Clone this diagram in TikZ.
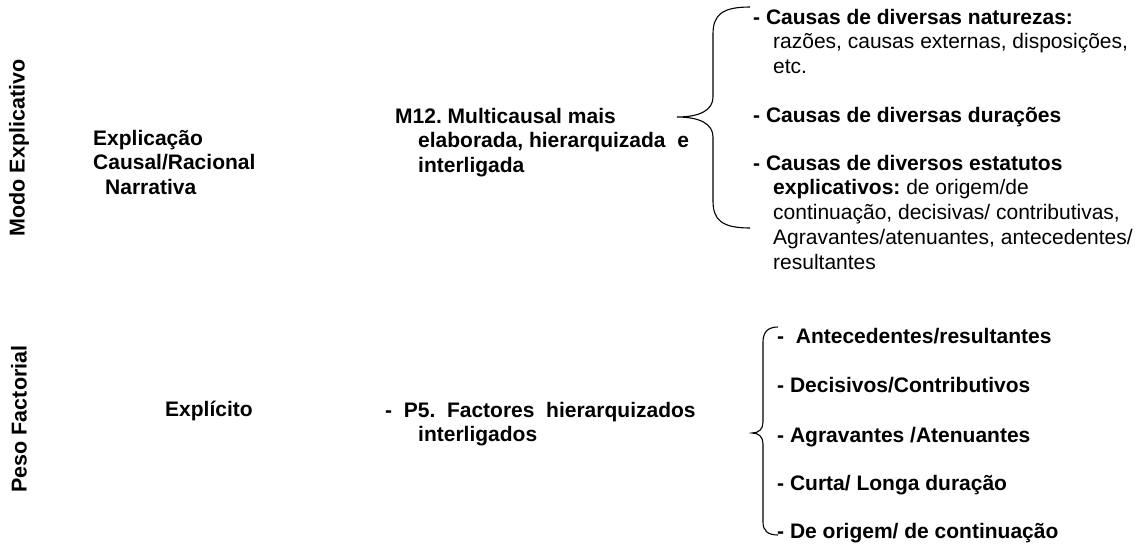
\documentclass[tikz,border=0pt]{standalone}
\usepackage{fontspec}
\setmainfont{Liberation Sans}
\frenchspacing

\begin{document}
\begin{tikzpicture}[x=1pt, y=-1pt,
    txt/.style={anchor=base west, inner sep=0pt, align=left,
      font={\fontsize{21}{24.8}\selectfont}},
    hd/.style={txt, font={\fontsize{21}{24.8}\selectfont\bfseries}},
    side/.style={rotate=90, inner sep=0pt,
      font={\fontsize{21.5}{24.8}\selectfont\bfseries}},
    brace/.style={line width=1.1pt}]
  \useasboundingbox (0,0) rectangle (1145,546);

  % side titles
  \node[side] (modo) at (19,148) {Modo Explicativo};
  \node[side] (peso) at (19,419) {Peso Factorial};

  % upper row (anchored at the baseline of the last line)
  \node[hd] (expl) at (93,194.6) {Explicação\\Causal/Racional\\\hspace*{12pt}Narrativa};
  \node[hd] (m12) at (395,172.6) {M12. Multicausal mais\\\hspace*{23pt}elaborada, hierarquizada\ \ e\\\hspace*{23pt}interligada};

  \draw[brace] (750,7) .. controls (722,7) and (713,15) .. (713,34)
    -- (713,97) .. controls (713,110) and (700,117) .. (677,117)
    .. controls (700,117) and (713,124) .. (713,137)
    -- (713,201) .. controls (713,220) and (722,228) .. (750,228);

  \node[txt] (naturezas) at (753,73.6) {\textbf{- Causas de diversas naturezas:}\\\hspace*{20pt}razões, causas externas, disposições,\\\hspace*{20pt}etc.};
  \node[hd] (duracoes) at (753,122) {- Causas de diversas durações};
  \node[txt] (estatutos) at (753,269.2) {\textbf{- Causas de diversos estatutos}\\\hspace*{20pt}\textbf{explicativos:} de origem/de\\\hspace*{20pt}continuação, decisivas/ contributivas,\\\hspace*{20pt}Agravantes/atenuantes, antecedentes/\\\hspace*{20pt}resultantes};

  % lower row
  \node[hd] (explicito) at (165,416) {Explícito};
  \node[hd] (p5) at (385,441.8) {-\ \ P5.\ \ Factores\ \ hierarquizados\\\hspace*{33pt}interligados};

  \draw[brace] (778,327) .. controls (768,327) and (763,332) .. (763,342)
    -- (763,422) .. controls (763,429) and (759,433) .. (752,433)
    .. controls (759,433) and (763,437) .. (763,444)
    -- (763,522) .. controls (763,531) and (768,535) .. (778,535);

  \node[hd] (antec) at (777,343) {-\ \ Antecedentes/resultantes};
  \node[hd] (decis) at (777,392) {- Decisivos/Contributivos};
  \node[hd] (agrav) at (777,442) {- Agravantes /Atenuantes};
  \node[hd] (curta) at (777,490) {- Curta/ Longa duração};
  \node[hd] (origem) at (777,538) {- De origem/ de continuação};
\end{tikzpicture}
\end{document}
